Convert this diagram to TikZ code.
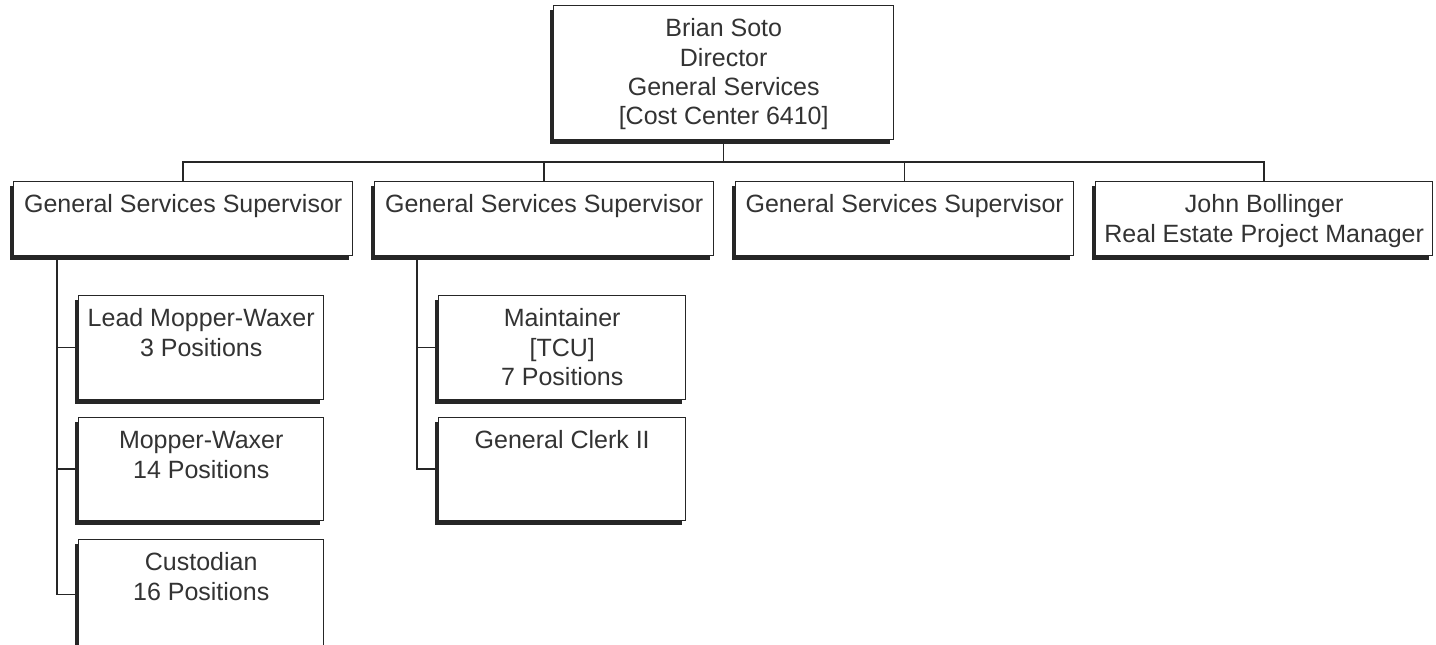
\documentclass[tikz,border=0pt]{standalone}
\usepackage{fontspec}
\setmainfont{Liberation Sans}
\usetikzlibrary{shadows}
\newcommand{\bxt}[3]{\parbox[c][#2pt][t]{#1pt}{\centering\fontsize{25}{29.3}\selectfont\rule{0pt}{31pt}#3}}
\begin{document}
\begin{tikzpicture}[x=1pt,y=-1pt,
  box/.style={draw=black!85, line width=1.4pt, fill=white, inner sep=0pt, anchor=north west,
    text=black!80,
    drop shadow={shadow xshift=-4pt, shadow yshift=-4pt, fill=black!85, opacity=1}},
  link/.style={draw=black!85, line width=1.5pt}]
\useasboundingbox (0,0) rectangle (1436,645);
\begin{scope}
\clip (0,0) rectangle (1436,645);
% top
\node[box] (top) at (553,5) {\bxt{340}{134}{Brian Soto\\Director\\General Services\\{[Cost Center 6410]}}};
% supervisors
\node[box] (s1) at (13,181) {\bxt{339}{74}{General Services Supervisor}};
\node[box] (s2) at (374,181) {\bxt{339}{74}{General Services Supervisor}};
\node[box] (s3) at (735,181) {\bxt{338}{74}{General Services Supervisor}};
\node[box] (s4) at (1095,181) {\bxt{337}{74}{John Bollinger\\Real Estate Project Manager}};
% children of s1
\node[box] (c1) at (78,295) {\bxt{245}{104}{Lead Mopper-Waxer\\3 Positions}};
\node[box] (c2) at (78,417) {\bxt{245}{103}{Mopper-Waxer\\14 Positions}};
\node[box] (c3) at (78,539) {\bxt{245}{110}{Custodian\\16 Positions}};
% children of s2
\node[box] (d1) at (438,295) {\bxt{247}{104}{Maintainer\\{[TCU]}\\7 Positions}};
\node[box] (d2) at (438,417) {\bxt{247}{103}{General Clerk II}};
% connectors
\coordinate (bus) at (723,162);
\coordinate (t1) at (57,0);
\coordinate (t2) at (417,0);
\draw[link] (top.south) -- (top.south |- bus);
\draw[link] (s1.north) -- (s1.north |- bus) -- (s4.north |- bus) -- (s4.north);
\draw[link] (s2.north) -- (s2.north |- bus);
\draw[link] (s3.north) -- (s3.north |- bus);
\draw[link] (t1 |- s1.south) -- (t1 |- c3.west) -- (c3.west);
\draw[link] (t1 |- c1.west) -- (c1.west);
\draw[link] (t1 |- c2.west) -- (c2.west);
\draw[link] (t2 |- s2.south) -- (t2 |- d2.west) -- (d2.west);
\draw[link] (t2 |- d1.west) -- (d1.west);
\end{scope}
\end{tikzpicture}
\end{document}
